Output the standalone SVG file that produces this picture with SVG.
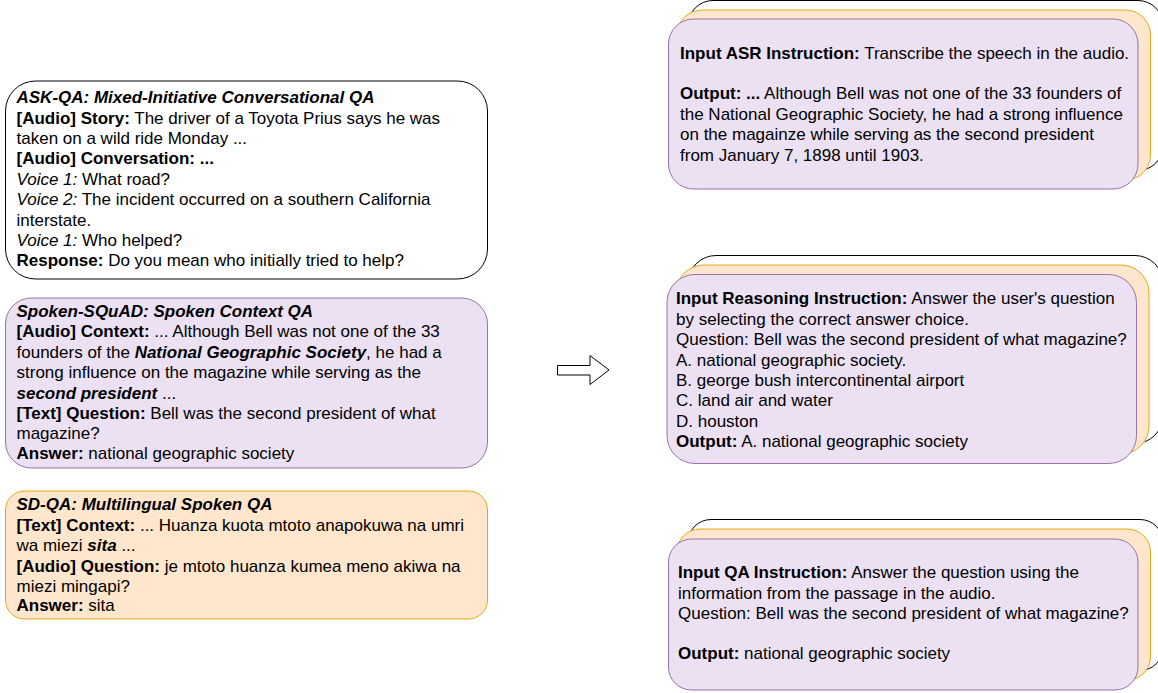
<svg xmlns="http://www.w3.org/2000/svg" width="1158" height="693" viewBox="0 0 1158 693">
<style>
text{font-family:"Liberation Sans",Arial,sans-serif;font-size:17px;fill:#000}
.b{font-weight:bold}.i{font-style:italic}.bi{font-weight:bold;font-style:italic}
.w{fill:#fff;stroke:#000;stroke-width:1}
.o{fill:#ffe6cc;stroke:#e6a817;stroke-width:1}
.p{fill:#ece0f3;stroke:#9673a6;stroke-width:1}
</style>
<rect width="1158" height="693" fill="#fff"/>
<g id="ask-qa">
<rect class="w" x="5.500" y="81" width="482" height="198" rx="30"/>
<text x="16.500" y="103" class="bi">ASK-QA: Mixed-Initiative Conversational QA</text>
<text x="16.500" y="123.500"><tspan class="b">[Audio] Story:</tspan> The driver of a Toyota Prius says he was</text>
<text x="16.500" y="144">taken on a wild ride Monday ...</text>
<text x="16.500" y="164" class="b">[Audio] Conversation: ...</text>
<text x="16.500" y="184.500"><tspan class="i">Voice 1:</tspan> What road?</text>
<text x="16.500" y="205"><tspan class="i">Voice 2:</tspan> The incident occurred on a southern California</text>
<text x="16.500" y="225.500">interstate.</text>
<text x="16.500" y="245.500"><tspan class="i">Voice 1:</tspan> Who helped?</text>
<text x="16.500" y="266"><tspan class="b">Response:</tspan> Do you mean who initially tried to help?</text>
</g>
<g id="spoken-squad">
<rect class="p" x="5.500" y="298" width="482" height="170" rx="26"/>
<text x="16.500" y="316.500" class="bi">Spoken-SQuAD: Spoken Context QA</text>
<text x="16.500" y="337"><tspan class="b">[Audio] Context:</tspan> ... Although Bell was not one of the 33</text>
<text x="16.500" y="357.500">founders of the <tspan class="bi">National Geographic Society</tspan>, he had a</text>
<text x="16.500" y="378">strong influence on the magazine while serving as the</text>
<text x="16.500" y="398.500"><tspan class="bi">second president</tspan> ...</text>
<text x="16.500" y="419"><tspan class="b">[Text] Question:</tspan> Bell was the second president of what</text>
<text x="16.500" y="439">magazine?</text>
<text x="16.500" y="459"><tspan class="b">Answer:</tspan> national geographic society</text>
</g>
<g id="sd-qa">
<rect class="o" x="5.500" y="491" width="482" height="128" rx="19"/>
<text x="16.500" y="510" class="bi">SD-QA: Multilingual Spoken QA</text>
<text x="16.500" y="530.500"><tspan class="b">[Text] Context:</tspan> ... Huanza kuota mtoto anapokuwa na umri</text>
<text x="16.500" y="551">wa miezi <tspan class="bi">sita</tspan> ...</text>
<text x="16.500" y="571.500"><tspan class="b">[Audio] Question:</tspan> je mtoto huanza kumea meno akiwa na</text>
<text x="16.500" y="591.500">miezi mingapi?</text>
<text x="16.500" y="611"><tspan class="b">Answer:</tspan> sita</text>
</g>
<g id="connectors">
<path d="M557.500 365.500H590V355.500L609 370L590 384.500V375H557.500Z" fill="#fff" stroke="#000" stroke-width="1"/>
</g>
<g id="asr-stack">
<rect class="w" x="688" y="0.500" width="475" height="170" rx="25"/>
<rect class="o" x="677" y="10" width="473.500" height="170" rx="25"/>
<rect class="p" x="668.500" y="19" width="469.500" height="170" rx="25"/>
<text x="680" y="59"><tspan class="b">Input ASR Instruction:</tspan> Transcribe the speech in the audio.</text>
<text x="680" y="99"><tspan class="b">Output: ...</tspan> Although Bell was not one of the 33 founders of</text>
<text x="680" y="120">the National Geographic Society, he had a strong influence</text>
<text x="680" y="140">on the magainze while serving as the second president</text>
<text x="680" y="161">from January 7, 1898 until 1903.</text>
</g>
<g id="reasoning-stack">
<rect class="w" x="688" y="255.500" width="475" height="188" rx="28"/>
<rect class="o" x="676" y="265" width="473" height="189" rx="28"/>
<rect class="p" x="667" y="274.500" width="469.500" height="189" rx="28"/>
<text x="676" y="304"><tspan class="b">Input Reasoning Instruction:</tspan> Answer the user's question</text>
<text x="676" y="324.500">by selecting the correct answer choice.</text>
<text x="676" y="345">Question: Bell was the second president of what magazine?</text>
<text x="676" y="365.500">A. national geographic society.</text>
<text x="676" y="386">B. george bush intercontinental airport</text>
<text x="676" y="406">C. land air and water</text>
<text x="676" y="426.500">D. houston</text>
<text x="676" y="446.500"><tspan class="b">Output:</tspan> A. national geographic society</text>
</g>
<g id="qa-stack">
<rect class="w" x="688" y="519.500" width="475" height="151" rx="23"/>
<rect class="o" x="677" y="529" width="473.500" height="151" rx="23"/>
<rect class="p" x="668.500" y="539" width="469.500" height="151" rx="23"/>
<text x="678" y="578"><tspan class="b">Input QA Instruction:</tspan> Answer the question using the</text>
<text x="678" y="598.500">information from the passage in the audio.</text>
<text x="678" y="619">Question: Bell was the second president of what magazine?</text>
<text x="678" y="659"><tspan class="b">Output:</tspan> national geographic society</text>
</g>
</svg>
